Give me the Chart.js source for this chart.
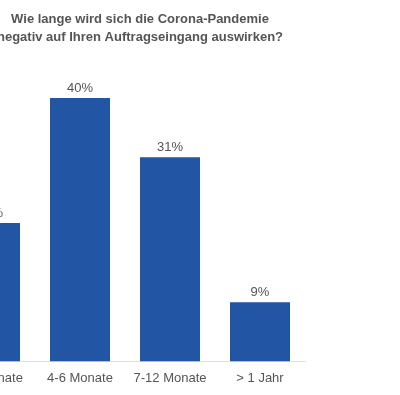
<!DOCTYPE html>
<html lang="de">
<head>
<meta charset="UTF-8">
<title>Corona Auftragseingang</title>
<script src="https://cdn.jsdelivr.net/npm/chart.js"></script>
<style>
  html, body { margin: 0; padding: 0; background: #fff; overflow: hidden; }
  #wrap { position: absolute; left: -140px; top: 0; width: 560px; height: 395px; }
</style>
</head>
<body>
<div id="wrap"><canvas id="chart" width="560" height="395"></canvas></div>
<script>
// Daten
const categories = ['1-3 Monate', '4-6 Monate', '7-12 Monate', '> 1 Jahr'];
const shares = [21, 40, 31, 9];
const titleLines = ['Wie lange wird sich die Corona-Pandemie', 'negativ auf Ihren Auftragseingang auswirken?'];

const barColor = '#2255a4';
const textColor = '#555555';
const fontFamily = '"Liberation Sans", Arial, sans-serif';

// Titel (über der ganzen Grafik zentriert, nicht nur über der Zeichenfläche)
const titleBlock = {
    id: 'titleBlock',
    afterDraw(chart) {
        const ctx = chart.ctx;
        ctx.save();
        ctx.font = 'bold 13px ' + fontFamily;
        ctx.fillStyle = textColor;
        ctx.textAlign = 'center';
        ctx.textBaseline = 'middle';
        titleLines.forEach(function(line, i) {
            ctx.fillText(line, chart.width / 2, 19 + i * 18);
        });
        ctx.restore();
    }
};

// Prozentwerte über den Balken
const valueLabels = {
    id: 'valueLabels',
    afterDatasetsDraw(chart) {
        const ctx = chart.ctx;
        const meta = chart.getDatasetMeta(0);
        ctx.save();
        ctx.font = '13px ' + fontFamily;
        ctx.fillStyle = textColor;
        ctx.textAlign = 'center';
        ctx.textBaseline = 'middle';
        meta.data.forEach(function(bar, i) {
            ctx.fillText(shares[i] + '%', bar.x, bar.y - 10);
        });
        ctx.restore();
    }
};

new Chart(document.getElementById('chart'), {
    type: 'bar',
    data: {
        labels: categories,
        datasets: [{
            data: shares,
            backgroundColor: barColor,
            barPercentage: 0.667,
            categoryPercentage: 1.0
        }]
    },
    options: {
        responsive: false,
        animation: false,
        layout: { padding: { left: 85, right: 115, top: 98, bottom: 8 } },
        plugins: {
            legend: { display: false },
            tooltip: { enabled: false },
            title: { display: false }
        },
        scales: {
            x: {
                grid: { display: false },
                border: { display: true, color: '#e2e2e2', width: 1 },
                ticks: {
                    color: textColor,
                    padding: 1,
                    font: { family: fontFamily, size: 13 }
                }
            },
            y: {
                display: false,
                min: 0,
                max: 40
            }
        }
    },
    plugins: [valueLabels, titleBlock]
});
</script>
</body>
</html>
